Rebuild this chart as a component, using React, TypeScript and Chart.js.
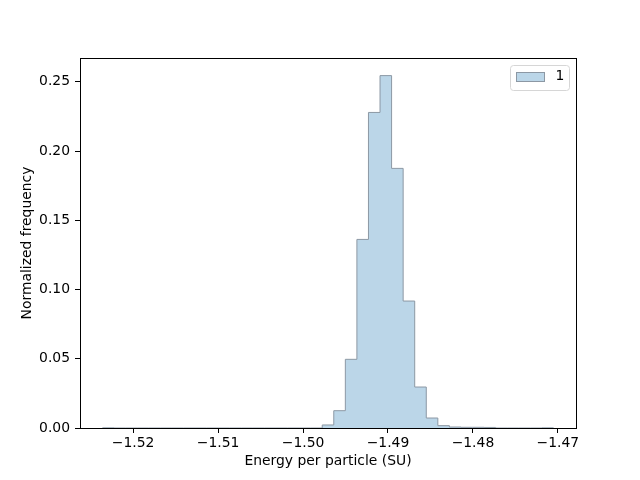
import React, { useEffect, useRef } from "react";
import { Chart, registerables } from "chart.js";

Chart.register(...registerables);

// Histogram data (normalized frequency per bin)
const binStart = -1.5236;
const binWidth = 0.001361;
const binValues = [
  0.0001, 0, 0, 0, 0, 0, 0, 0, 0, 0,
  0, 0, 0, 0, 0, 0, 0, 0, 0, 0.0022,
  0.0125, 0.0496, 0.1362, 0.2279, 0.2545, 0.1875, 0.0917, 0.0296, 0.0072, 0.0017,
  0.0007, 0.0005, 0.0005, 0.0004, 0, 0, 0, 0, 0.0001,
];
const xTicks = [-1.52, -1.51, -1.5, -1.49, -1.48, -1.47];
const yTicks = [0, 0.05, 0.1, 0.15, 0.2, 0.25];
const legendLabel = "1";
const xTitle = "Energy per particle (SU)";
const yTitle = "Normalized frequency";

const FILL = "rgba(31,119,180,0.3)";
const EDGE = "rgb(140,152,164)";
const FONT = "DejaVu Sans";
const FS = 13.9;

const fmt = (v: number) => (v < 0 ? "\u2212" : "") + Math.abs(v).toFixed(2);

export default function App() {
  const ref = useRef<HTMLCanvasElement | null>(null);

  useEffect(() => {
    if (!ref.current) return;
    const nBins = binValues.length;
    const edges = Array.from({ length: nBins + 1 }, (_, i) => binStart + i * binWidth);
    const pts: { x: number; y: number }[] = [{ x: edges[0], y: 0 }];
    binValues.forEach((v, i) => pts.push({ x: edges[i], y: v }));
    pts.push({ x: edges[nBins], y: binValues[nBins - 1] });
    pts.push({ x: edges[nBins], y: 0 });

    const span = edges[nBins] - edges[0];
    const xMin = edges[0] - 0.05 * span;
    const xMax = edges[nBins] + 0.05 * span;
    const yMax = Math.max(...binValues) * 1.05;

    const decor = {
      id: "decor",
      afterDatasetsDraw(chart: any) {
        const { ctx, chartArea: a } = chart;
        ctx.save();
        ctx.strokeStyle = "#000";
        ctx.lineWidth = 1;
        ctx.strokeRect(Math.round(a.left) + 0.5, Math.round(a.top) + 0.5, Math.round(a.right - a.left) - 1 + 1, Math.round(a.bottom - a.top));
        ctx.restore();
      },
      afterDraw(chart: any) {
        const { ctx, chartArea: a } = chart;
        ctx.save();
        ctx.fillStyle = "#000";
        ctx.font = `${FS}px "${FONT}"`;
        ctx.textAlign = "center";
        ctx.textBaseline = "middle";
        ctx.fillText(xTitle, (a.left + a.right) / 2, 461);
        ctx.save();
        ctx.translate(27, (a.top + a.bottom) / 2);
        ctx.rotate(-Math.PI / 2);
        ctx.fillText(yTitle, 0, 0);
        ctx.restore();

        // legend
        const lx = 510.5, ly = 65.5, lw = 59, lh = 25, r = 3;
        ctx.beginPath();
        ctx.moveTo(lx + r, ly);
        ctx.lineTo(lx + lw - r, ly);
        ctx.quadraticCurveTo(lx + lw, ly, lx + lw, ly + r);
        ctx.lineTo(lx + lw, ly + lh - r);
        ctx.quadraticCurveTo(lx + lw, ly + lh, lx + lw - r, ly + lh);
        ctx.lineTo(lx + r, ly + lh);
        ctx.quadraticCurveTo(lx, ly + lh, lx, ly + lh - r);
        ctx.lineTo(lx, ly + r);
        ctx.quadraticCurveTo(lx, ly, lx + r, ly);
        ctx.closePath();
        ctx.fillStyle = "rgba(255,255,255,0.8)";
        ctx.fill();
        ctx.strokeStyle = "#d6d6d6";
        ctx.lineWidth = 1;
        ctx.stroke();

        ctx.fillStyle = FILL;
        ctx.fillRect(516.5, 72.5, 28, 9);
        ctx.strokeStyle = EDGE;
        ctx.strokeRect(516.5, 72.5, 28, 9);

        ctx.fillStyle = "#000";
        ctx.textAlign = "left";
        ctx.fillText(legendLabel, 555.5, 76.5);
        ctx.restore();
      },
    };

    const chart = new Chart(ref.current, {
      type: "line",
      data: {
        datasets: [
          {
            label: legendLabel,
            data: pts,
            stepped: "before",
            fill: "origin",
            backgroundColor: FILL,
            borderColor: EDGE,
            borderWidth: 1,
            pointRadius: 0,
            tension: 0,
          } as any,
        ],
      },
      options: {
        animation: false,
        responsive: true,
        maintainAspectRatio: false,
        layout: { padding: { left: 20, right: 64, top: 58, bottom: 0 } },
        plugins: { legend: { display: false }, tooltip: { enabled: false } },
        scales: {
          x: {
            type: "linear",
            min: xMin,
            max: xMax,
            afterBuildTicks: (s: any) => {
              s.ticks = xTicks.map((v) => ({ value: v }));
            },
            afterFit: (s: any) => {
              s.height = 52;
            },
            ticks: {
              color: "#000",
              padding: 2,
              maxRotation: 0,
              autoSkip: false,
              font: { family: FONT, size: FS },
              callback: (v: any) => fmt(Number(v)),
            },
            grid: { drawOnChartArea: false, drawTicks: true, tickLength: 5, tickColor: "#000", tickWidth: 1 },
            border: { display: false },
          },
          y: {
            type: "linear",
            min: 0,
            max: yMax,
            afterBuildTicks: (s: any) => {
              s.ticks = yTicks.map((v) => ({ value: v }));
            },
            afterFit: (s: any) => {
              s.width = 60;
            },
            ticks: {
              color: "#000",
              padding: 5,
              autoSkip: false,
              font: { family: FONT, size: FS },
              callback: (v: any) => Number(v).toFixed(2),
            },
            grid: { drawOnChartArea: false, drawTicks: true, tickLength: 5, tickColor: "#000", tickWidth: 1 },
            border: { display: false },
          },
        },
      },
      plugins: [decor],
    });
    return () => chart.destroy();
  }, []);

  return (
    <div style={{ position: "absolute", left: 0, top: 0, width: 640, height: 480, background: "#fff" }}>
      <canvas ref={ref} width={640} height={480} />
    </div>
  );
}
